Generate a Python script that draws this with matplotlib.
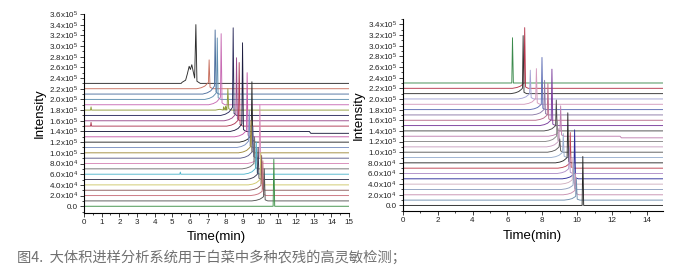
import numpy as np
import matplotlib.pyplot as plt
from matplotlib.ticker import MultipleLocator, FuncFormatter

plt.rcParams['font.family'] = ['Liberation Sans', 'DejaVu Sans']
plt.rcParams['mathtext.fontset'] = 'custom'
plt.rcParams['mathtext.rm'] = 'Liberation Sans'
plt.rcParams['mathtext.it'] = 'Liberation Sans:italic'

# stacked chromatograms, values in units of 1e4 counts, top trace first
base_levels = [23, 22, 21, 20, 19, 18, 17, 16, 15, 14, 13, 12,
               11, 10, 9, 8, 7, 6, 5, 4, 3, 2, 1, 0]

# left panel: peak retention time (min), absolute apex, leading rise
left_peak_t = [6.33, 7.08, 7.42, 7.54, 7.76, 8.14, 8.44, 8.63, 8.78, 8.97, 9.23, 9.50,
               9.35, 9.45, 9.55, 9.95, 9.65, 9.75, 9.85, 10.00, 10.05, 10.12, 10.20, 10.74]
left_peak_top = [34.0, 27.4, 33.0, 31.5, 32.3, 22.0, 33.4, 27.8, 26.9, 30.6, 25.0, 23.3,
                 18.0, 16.0, 15.0, 19.0, 13.0, 12.0, 11.0, 10.0, 9.5, 8.5, 7.0, 8.8]
left_rise = [0.0, 1.2, 1.5, 1.3, 1.4, 1.0, 1.5, 1.3, 1.2, 1.4, 1.2, 1.3,
             1.2, 1.1, 1.2, 1.3, 1.0, 1.1, 1.0, 1.0, 0.9, 0.8, 0.8, 0.0]
# broad hump in front of the first peak of the top trace
left_hump_t = [5.55, 5.75, 5.85, 5.95, 6.02, 6.10, 6.18, 6.26]
left_hump_y = [23.2, 23.6, 24.8, 26.2, 25.6, 26.5, 25.2, 24.0]
# small spikes (trace index, time, height above base)
left_spikes = [(5, 0.40, 0.6), (8, 0.40, 0.7), (17, 5.45, 0.4), (5, 7.90, 0.6), (5, 8.05, 0.5)]
# baseline step on one trace (trace index, time, drop)
left_step = (9, 12.75, 0.35)

# right panel
right_peak_t = [6.29, 6.99, 6.90, 7.31, 7.66, 7.98, 8.13, 8.32, 8.55, 8.80, 9.05, 8.85,
                8.95, 9.00, 9.20, 9.46, 9.60, 9.55, 9.85, 9.75, 9.80, 9.90, 9.95, 10.32]
right_peak_top = [31.5, 33.4, 31.9, 25.4, 25.7, 27.8, 23.5, 22.9, 25.6, 19.8, 18.7, 16.0,
                  14.5, 12.5, 13.5, 17.4, 13.7, 11.0, 14.2, 9.0, 8.0, 6.0, 5.0, 9.2]
right_rise = [0.0, 1.0, 1.0, 1.0, 1.1, 1.0, 1.0, 1.0, 1.1, 1.0, 1.0, 1.0,
              1.0, 1.0, 1.0, 1.0, 0.9, 0.9, 0.9, 0.8, 0.8, 0.8, 0.7, 0.0]
right_step = (10, 12.45, 0.3)

left_colors = ['#2b2b2b', '#c8705f', '#4d6f9e', '#5f8fb0', '#c86cb4', '#8f9c3a',
               '#2c2c5c', '#9a4a8a', '#b03a55', '#1e1e40', '#c55aa8', '#262626',
               '#7a90c0', '#a08a3c', '#5a5a8a', '#d889b8', '#6e6e6e', '#52b6cc',
               '#3a3a52', '#cfc86a', '#8c5a5a', '#c9707c', '#555555', '#3b8f45']
right_colors = ['#3b8a4c', '#b5364c', '#343434', '#a3a3d6', '#d49bbd', '#5d6db5',
                '#8c7aa8', '#b86a8a', '#7a3c9c', '#4a4a4a', '#c080b0', '#8a8a8a',
                '#c8a0c0', '#5a5a5a', '#9ab0d0', '#2a2a2a', '#c04050', '#b090c8',
                '#2c2c9a', '#d0b0c0', '#90a0c0', '#c890b0', '#7090b0', '#262626']


def trace(i, tpk, top, rise, xmax, step=None, hump=None, spikes=()):
    b = base_levels[i]
    r = rise
    xs = [0.0, tpk - 0.7, tpk - 0.45, tpk - 0.25, tpk - 0.12, tpk - 0.04,
          tpk, tpk + 0.05, tpk + 0.2]
    ys = [b, b, b + 0.15 * r, b + 0.4 * r, b + 0.75 * r, b + r,
          top, b + 0.25 * r, b]
    if hump is not None:
        xs = [0.0, hump[0][0] - 0.05] + list(hump[0]) + [tpk, tpk + 0.06, tpk + 0.25]
        ys = [b, b] + list(hump[1]) + [top, b + 0.4, b]
    for (j, ts, hs) in spikes:
        if j == i:
            xs += [ts - 0.03, ts, ts + 0.03]
            ys += [b, b + hs, b]
    if step is not None and step[0] == i:
        xs += [step[1], step[1] + 0.08, xmax]
        ys += [b, b - step[2], b - step[2]]
    else:
        xs.append(xmax)
        ys.append(b)
    order = np.argsort(xs, kind='stable')
    return np.array(xs)[order], np.array(ys)[order] * 1e4


def sci_fmt(v, pos):
    if abs(v) < 1:
        return '0.0'
    e = int(np.floor(np.log10(v) + 1e-9))
    m = v / 10 ** e
    return f'{m:.1f}x10$^{{{e}}}$'


fig = plt.figure(figsize=(6.74, 2.73), dpi=100)
axL = fig.add_axes([0.1246, 0.221, 0.3934, 0.728])
axR = fig.add_axes([0.5975, 0.228, 0.3858, 0.702])

for i in range(len(base_levels)):
    x, y = trace(i, left_peak_t[i], left_peak_top[i], left_rise[i], 15.0,
                 step=left_step, spikes=left_spikes,
                 hump=(left_hump_t, left_hump_y) if i == 0 else None)
    axL.plot(x, y, color=left_colors[i], lw=0.65)
    x, y = trace(i, right_peak_t[i], right_peak_top[i], right_rise[i], 14.9,
                 step=right_step)
    axR.plot(x, y, color=right_colors[i], lw=0.65)

axL.set_xlim(0, 15)
axL.set_ylim(-1.2e4, 3.6e5)
axL.xaxis.set_major_locator(MultipleLocator(1))
axL.xaxis.set_minor_locator(MultipleLocator(0.5))
axR.set_xlim(0, 14.9)
axR.set_ylim(-1.0e4, 3.5e5)
axR.xaxis.set_major_locator(MultipleLocator(2))
axR.xaxis.set_minor_locator(MultipleLocator(1))

for ax, ytop in [(axL, 3.6e5), (axR, 3.4e5)]:
    ax.set_yticks(np.arange(0, ytop + 1, 2e4))
    ax.yaxis.set_minor_locator(MultipleLocator(1e4))
    ax.yaxis.set_major_formatter(FuncFormatter(sci_fmt))
    ax.spines['top'].set_visible(False)
    ax.spines['right'].set_visible(False)
    for s in ['left', 'bottom']:
        ax.spines[s].set_linewidth(0.8)
    ax.tick_params(which='major', direction='out', length=3, width=0.6,
                   labelsize=5.8, pad=1.5, colors='#222222')
    ax.tick_params(which='minor', direction='out', length=1.6, width=0.5)
    ax.set_xlabel('Time(min)', fontsize=9.5, labelpad=4)
    ax.set_ylabel('Intensity', fontsize=9.5, labelpad=2)

fig.text(0.025, 0.04, '图4.  大体积进样分析系统用于白菜中多种农残的高灵敏检测；',
         family=['Noto Sans CJK SC', 'DejaVu Sans'], fontsize=10.3, color='#707070')

fig.savefig('out.png', dpi=100)
